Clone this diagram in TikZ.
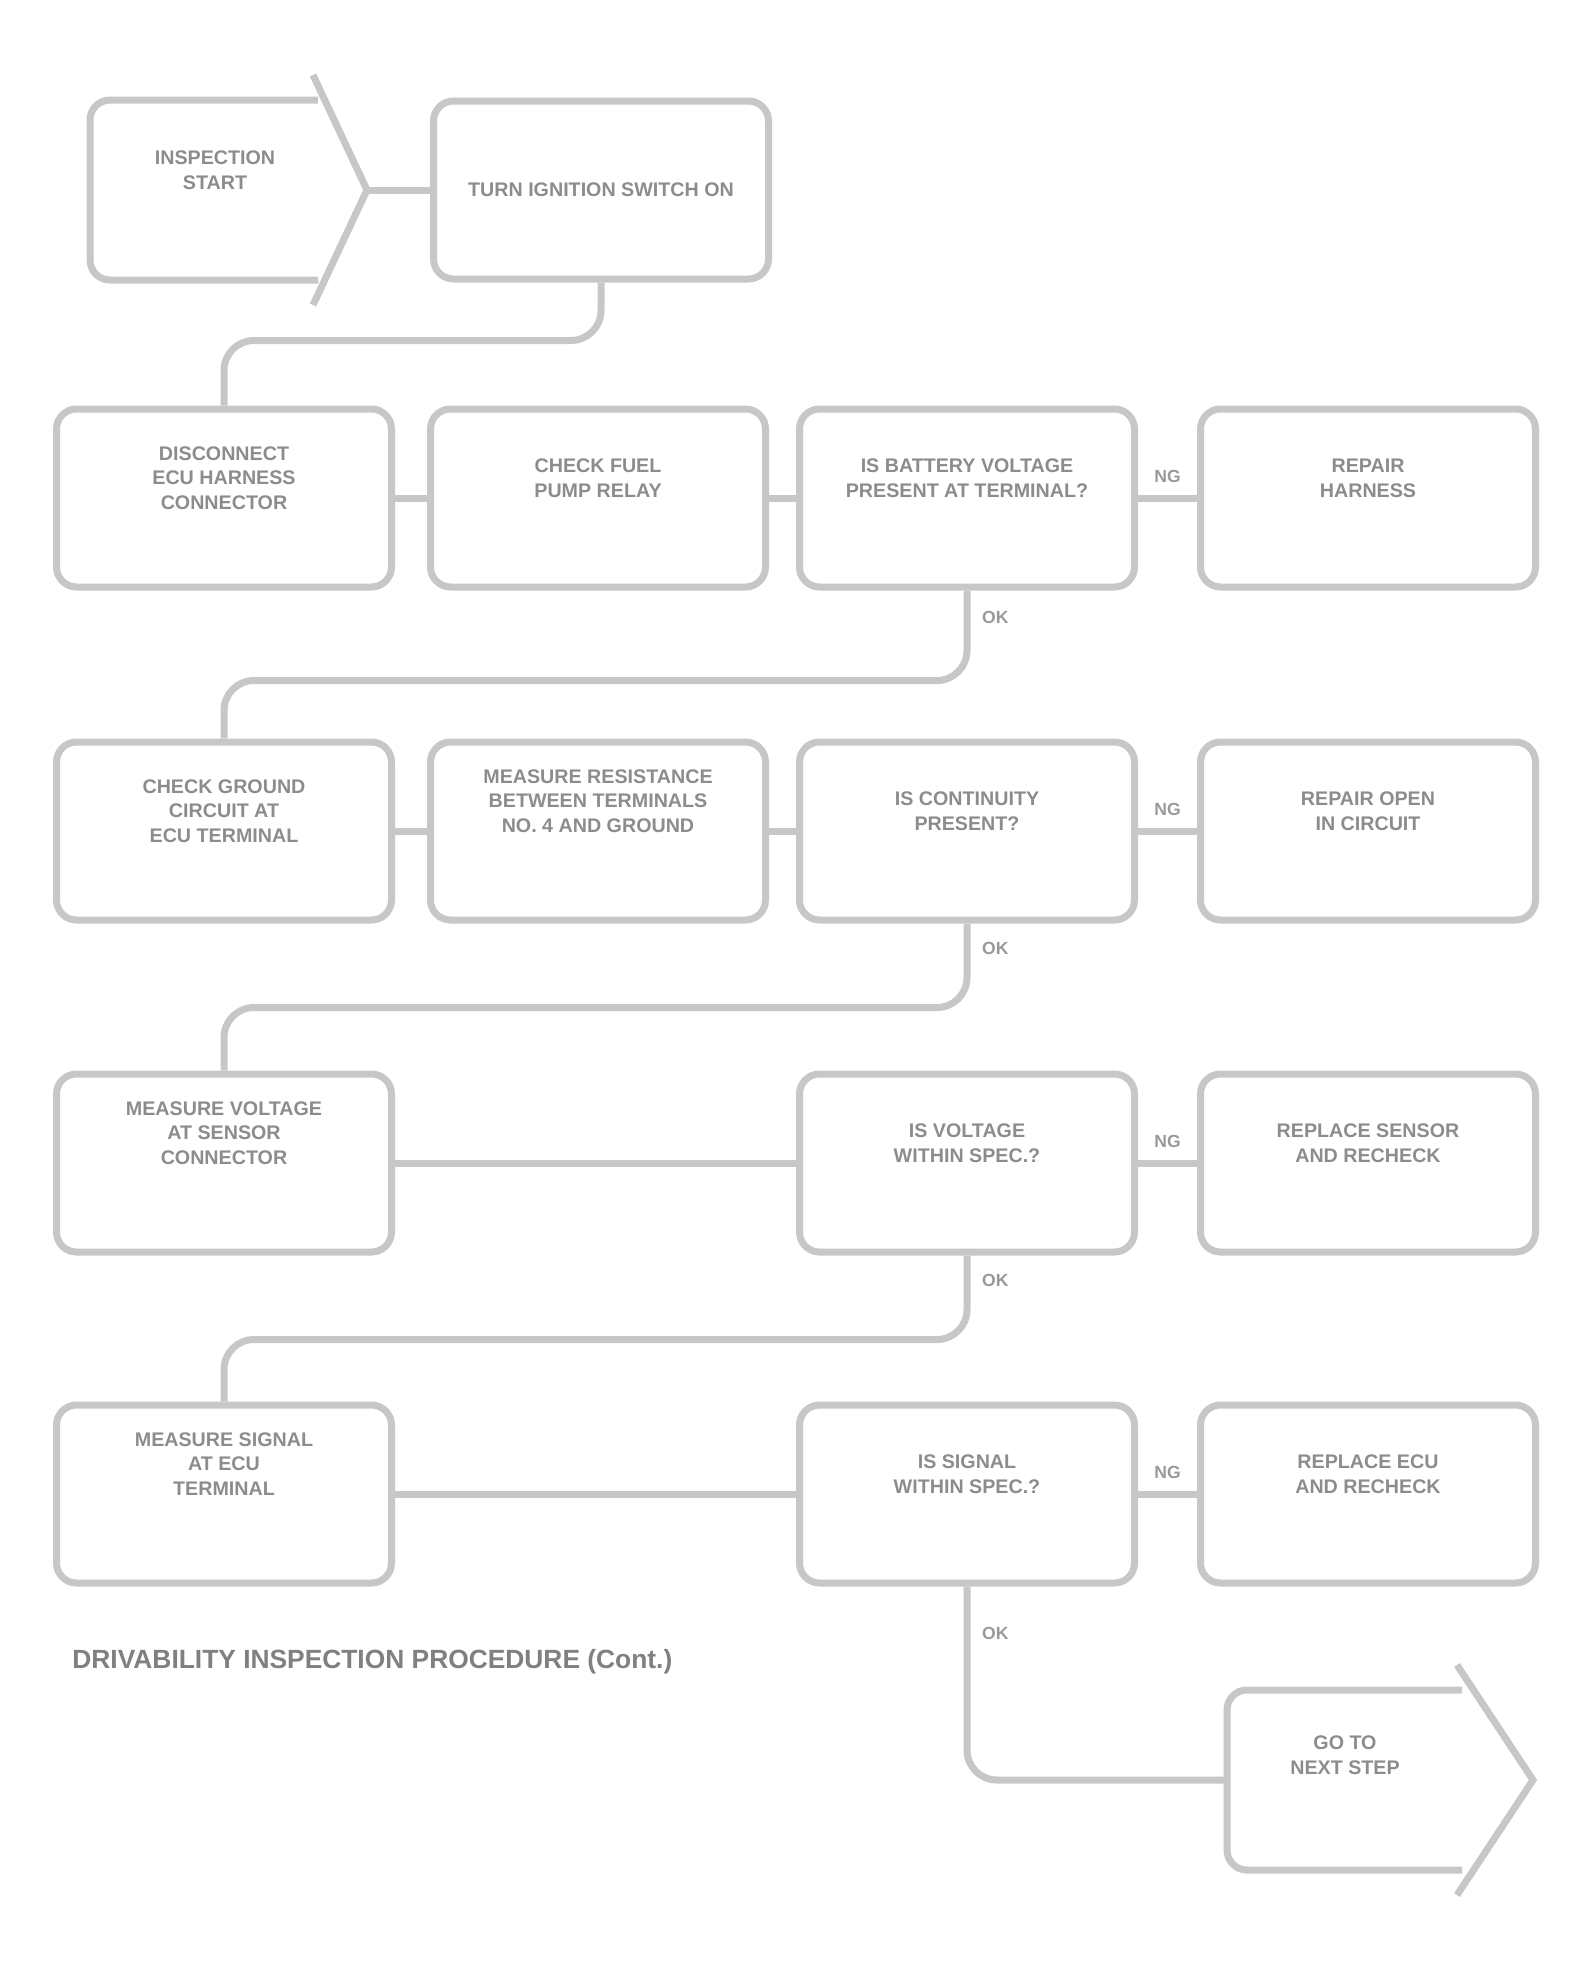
\documentclass[tikz,border=0pt]{standalone}
\usepackage{fontspec}
\setmainfont{Liberation Sans}
\usetikzlibrary{arrows.meta}

\begin{document}
\begin{tikzpicture}[x=0.1mm, y=-0.1mm]
\useasboundingbox (0,0) rectangle (1580,1972);

\begin{scope}[every node/.style={draw=black!22, line width=0.7mm, rounded corners=2mm,
    minimum width=33.5mm, minimum height=17.8mm, align=center, text depth=4mm,
    text=black!45, font=\fontsize{5.6}{7}\selectfont\bfseries}]
\node (p0) at (215,190) [draw=none, minimum width=20mm] {INSPECTION\\START};
\node (p1) at (601,190) [text depth=0pt] {TURN IGNITION SWITCH ON};
\node (p2) at (224,498) {DISCONNECT\\ECU HARNESS\\CONNECTOR};
\node (p3) at (598,498) {CHECK FUEL\\PUMP RELAY};
\node (p4) at (967,498) {IS BATTERY VOLTAGE\\PRESENT AT TERMINAL?};
\node (p5) at (1368,498) {REPAIR\\HARNESS};
\node (p6) at (224,831) {CHECK GROUND\\CIRCUIT AT\\ECU TERMINAL};
\node (p7) at (598,831) [text depth=6mm] {MEASURE RESISTANCE\\BETWEEN TERMINALS\\NO. 4 AND GROUND};
\node (p8) at (967,831) {IS CONTINUITY\\PRESENT?};
\node (p9) at (1368,831) {REPAIR OPEN\\IN CIRCUIT};
\node (p10) at (224,1163) [text depth=6mm] {MEASURE VOLTAGE\\AT SENSOR\\CONNECTOR};
\node (p11) at (967,1163) {IS VOLTAGE\\WITHIN SPEC.?};
\node (p12) at (1368,1163) {REPLACE SENSOR\\AND RECHECK};
\node (p13) at (224,1494) [text depth=6mm] {MEASURE SIGNAL\\AT ECU\\TERMINAL};
\node (p14) at (967,1494) {IS SIGNAL\\WITHIN SPEC.?};
\node (p15) at (1368,1494) {REPLACE ECU\\AND RECHECK};
\node (p16) at (1345,1775) [draw=none, minimum width=20mm] {GO TO\\NEXT STEP};
\end{scope}

% arrow shaped end boxes
\begin{scope}[draw=black!22, line width=0.7mm]
\draw[rounded corners=2mm] (318,100) -- (90,100) -- (90,280) -- (318,280);
\draw (313,75) -- (367,190) -- (313,305);
\coordinate (t0) at (367,190);
\draw[rounded corners=2mm] (1462,1690) -- (1227,1690) -- (1227,1870) -- (1462,1870);
\draw (1457,1665) -- (1533,1780) -- (1457,1895);
\coordinate (t16) at (1227,1780);
\end{scope}

\begin{scope}[draw=black!22, line width=0.7mm, rounded corners=3mm,
    every node/.style={text=black!40, font=\fontsize{5}{6}\selectfont\bfseries}]
\draw (t0) -- (p1.west);
\draw (p1.south) -- ++(0,58) -| (p2.north);
\draw (p2) -- (p3);
\draw (p3) -- (p4);
\draw (p4) -- node[above] {NG} (p5);
\draw (p4.south) -- node[right, pos=0.3] {OK} ++(0,90) -| (p6.north);
\draw (p6) -- (p7);
\draw (p7) -- (p8);
\draw (p8) -- node[above] {NG} (p9);
\draw (p8.south) -- node[right, pos=0.3] {OK} ++(0,84) -| (p10.north);
\draw (p10) -- (p11);
\draw (p11) -- node[above] {NG} (p12);
\draw (p11.south) -- node[right, pos=0.3] {OK} ++(0,84) -| (p13.north);
\draw (p13) -- (p14);
\draw (p14) -- node[above] {NG} (p15);
\draw (p14.south) |- node[right, pos=0.12] {OK} (t16);
\end{scope}

\node (cap) at (60,1662) [anchor=west, text=black!50, font=\fontsize{7.5}{9}\selectfont\bfseries]
  {DRIVABILITY INSPECTION PROCEDURE (Cont.)};

\end{tikzpicture}
\end{document}
